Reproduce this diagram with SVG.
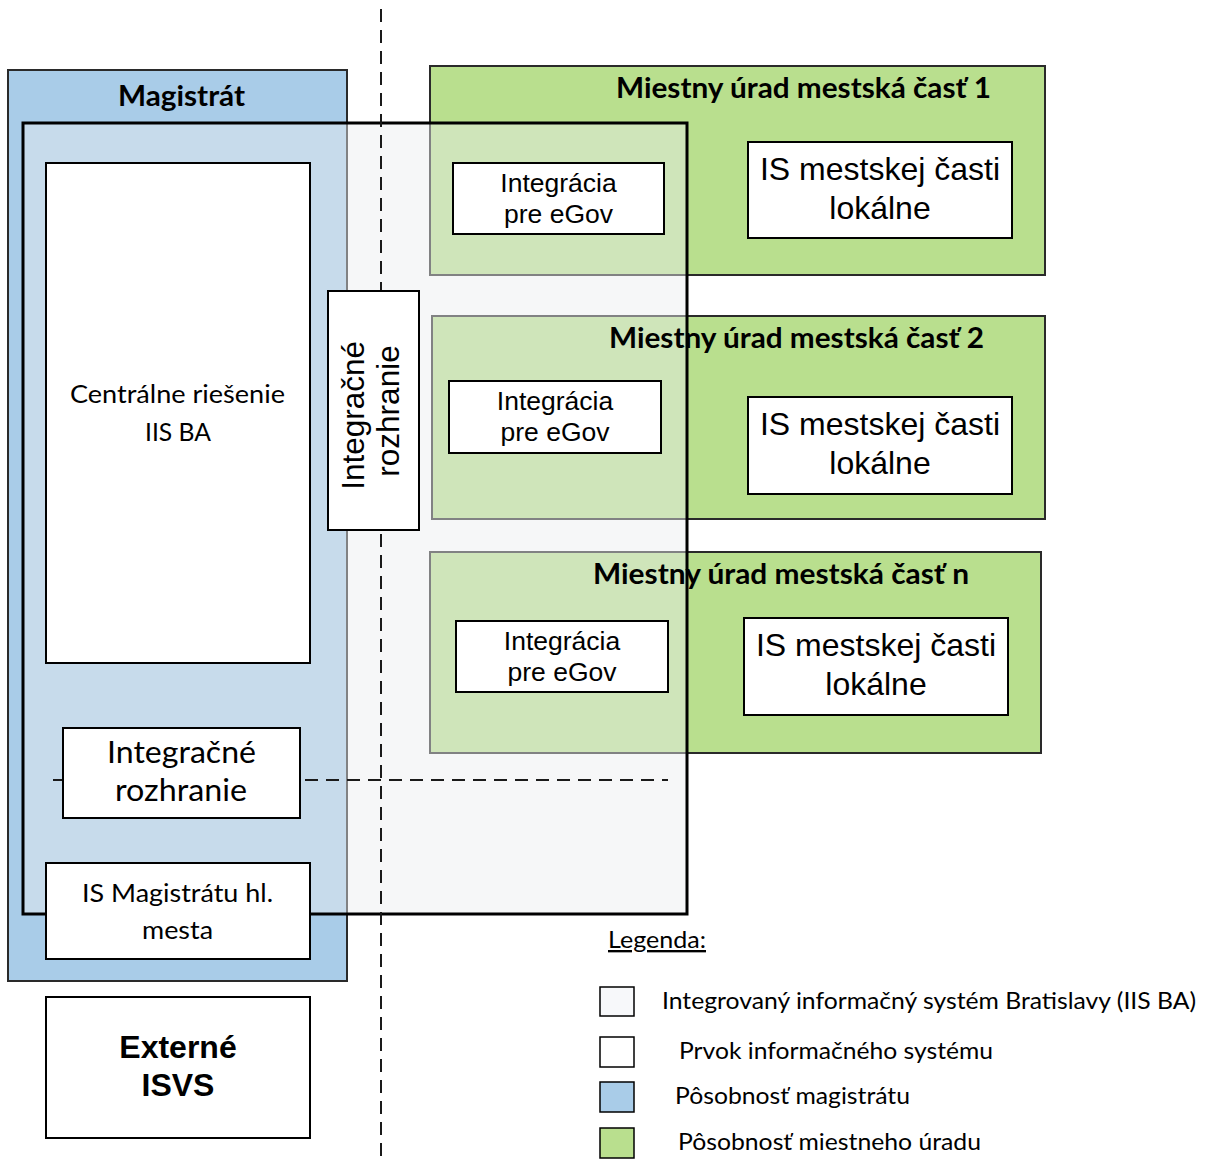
<svg xmlns="http://www.w3.org/2000/svg" width="1207" height="1159" viewBox="0 0 1207 1159">
  <style>
    .mag { fill: #a9cce8; stroke: #2a2a2a; stroke-width: 2; }
    .mc { fill: #b9df8e; stroke: #2a2a2a; stroke-width: 2; }
    .iis { fill: #ebeef0; fill-opacity: 0.45; stroke: #000; stroke-width: 3; }
    .box { fill: #fff; stroke: #000; stroke-width: 2; }
    .div { fill: none; stroke: #1a1a1a; stroke-width: 2; stroke-dasharray: 13 8; }
    .cal { font-family: Lato, "Open Sans", sans-serif; fill: #000; }
    .ari { font-family: "Liberation Sans", Arial, sans-serif; fill: #000; }
    .title { font-weight: bold; font-size: 29px; }
    .mid { text-anchor: middle; }
  </style>

  <!-- scope: city magistrate -->
  <g id="magistrat">
    <rect class="mag" x="8" y="70" width="339" height="911"/>
  </g>

  <!-- scope: district offices -->
  <g id="mc1">
    <rect class="mc" x="430" y="66" width="615" height="209"/>
  </g>
  <g id="mc2">
    <rect class="mc" x="432" y="316" width="613" height="203"/>
  </g>
  <g id="mcn">
    <rect class="mc" x="430" y="552" width="611" height="201"/>
  </g>

  <!-- integrated information system of Bratislava (translucent overlay) -->
  <g id="iis-ba">
    <rect class="iis" x="23" y="123" width="664" height="791"/>
  </g>

  <!-- boundary separators -->
  <g id="connectors">
    <line class="div" x1="381" y1="9" x2="381" y2="1159"/>
    <line class="div" x1="53" y1="780" x2="668" y2="780"/>
  </g>

  <!-- scope headings -->
  <g id="headings" class="cal title">
    <text class="mid" x="181.5" y="106" textLength="127" lengthAdjust="spacingAndGlyphs">Magistrát</text>
    <text class="mid" x="803.5" y="98" textLength="375" lengthAdjust="spacingAndGlyphs">Miestny úrad mestská časť 1</text>
    <text class="mid" x="796.5" y="348" textLength="375" lengthAdjust="spacingAndGlyphs">Miestny úrad mestská časť 2</text>
    <text class="mid" x="781" y="584" textLength="376" lengthAdjust="spacingAndGlyphs">Miestny úrad mestská časť n</text>
  </g>

  <g id="centralne-riesenie">
    <rect class="box" x="46" y="163" width="264" height="500"/>
    <text class="cal mid" font-size="25.5" x="177.5" y="403" textLength="215" lengthAdjust="spacingAndGlyphs">Centrálne riešenie</text>
    <text class="cal mid" font-size="25.5" x="178" y="441" textLength="66" lengthAdjust="spacingAndGlyphs">IIS BA</text>
  </g>

  <g id="integracne-rozhranie-v">
    <rect class="box" x="328" y="291" width="91" height="239"/>
    <text class="ari mid" font-size="31.5" transform="translate(373.5,411) rotate(-90)">
      <tspan x="0" y="-9.5">Integračné</tspan>
      <tspan x="0" y="25.5">rozhranie</tspan>
    </text>
  </g>

  <g id="integracne-rozhranie-h">
    <rect class="box" x="63" y="728" width="237" height="90"/>
    <text class="cal mid" font-size="31" x="181.5" y="763" textLength="149" lengthAdjust="spacingAndGlyphs">Integračné</text>
    <text class="cal mid" font-size="31" x="181" y="801" textLength="132" lengthAdjust="spacingAndGlyphs">rozhranie</text>
  </g>

  <g id="is-magistratu">
    <rect class="box" x="46" y="863" width="264" height="96"/>
    <text class="cal mid" font-size="25.5" x="177.5" y="902" textLength="191" lengthAdjust="spacingAndGlyphs">IS Magistrátu hl.</text>
    <text class="cal mid" font-size="25.5" x="177.5" y="939" textLength="71" lengthAdjust="spacingAndGlyphs">mesta</text>
  </g>

  <g id="externe-isvs">
    <rect class="box" x="46" y="997" width="264" height="141"/>
    <text class="ari mid" font-size="32" font-weight="bold" x="178" y="1058">Externé</text>
    <text class="ari mid" font-size="32" font-weight="bold" x="178" y="1096">ISVS</text>
  </g>

  <g id="egov-1">
    <rect class="box" x="453" y="163" width="211" height="71"/>
    <text class="ari mid" font-size="26.5" x="558.5" y="192">Integrácia</text>
    <text class="ari mid" font-size="26.5" x="558.5" y="223">pre eGov</text>
  </g>
  <g id="egov-2">
    <rect class="box" x="449" y="381" width="212" height="72"/>
    <text class="ari mid" font-size="26.5" x="555" y="410">Integrácia</text>
    <text class="ari mid" font-size="26.5" x="555" y="441">pre eGov</text>
  </g>
  <g id="egov-n">
    <rect class="box" x="456" y="621" width="212" height="71"/>
    <text class="ari mid" font-size="26.5" x="562" y="650">Integrácia</text>
    <text class="ari mid" font-size="26.5" x="562" y="681">pre eGov</text>
  </g>

  <g id="is-mc1">
    <rect class="box" x="748" y="142" width="264" height="96"/>
    <text class="ari mid" font-size="32" x="880" y="180">IS mestskej časti</text>
    <text class="ari mid" font-size="32" x="880" y="219">lokálne</text>
  </g>
  <g id="is-mc2">
    <rect class="box" x="748" y="397" width="264" height="97"/>
    <text class="ari mid" font-size="32" x="880" y="435">IS mestskej časti</text>
    <text class="ari mid" font-size="32" x="880" y="474">lokálne</text>
  </g>
  <g id="is-mcn">
    <rect class="box" x="744" y="618" width="264" height="97"/>
    <text class="ari mid" font-size="32" x="876" y="656">IS mestskej časti</text>
    <text class="ari mid" font-size="32" x="876" y="695">lokálne</text>
  </g>

  <!-- legend -->
  <g id="legend" class="cal" font-size="23.5">
    <text x="608" y="948" text-decoration="underline" textLength="98" lengthAdjust="spacingAndGlyphs">Legenda:</text>
    <rect x="600" y="987" width="34" height="29" fill="#f7f8fa" stroke="#000" stroke-width="1.5"/>
    <rect x="600" y="1037" width="34" height="30" fill="#fff" stroke="#000" stroke-width="1.5"/>
    <rect x="600" y="1082" width="34" height="30" fill="#a9cce8" stroke="#000" stroke-width="1.5"/>
    <rect x="600" y="1128" width="34" height="30" fill="#b9df8e" stroke="#000" stroke-width="1.5"/>
    <text x="662" y="1009" textLength="534" lengthAdjust="spacingAndGlyphs">Integrovaný informačný systém Bratislavy (IIS BA)</text>
    <text x="679" y="1059" textLength="314" lengthAdjust="spacingAndGlyphs">Prvok informačného systému</text>
    <text x="675" y="1104" textLength="235" lengthAdjust="spacingAndGlyphs">Pôsobnosť magistrátu</text>
    <text x="678" y="1150" textLength="303" lengthAdjust="spacingAndGlyphs">Pôsobnosť miestneho úradu</text>
  </g>
</svg>
